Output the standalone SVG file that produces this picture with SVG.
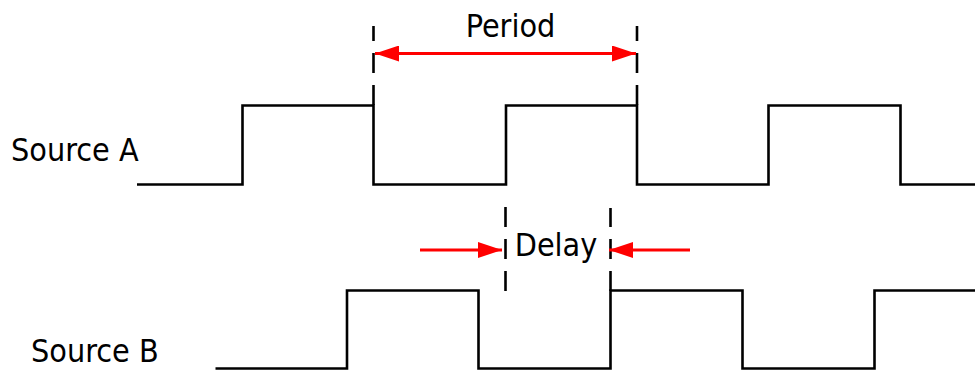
<svg xmlns="http://www.w3.org/2000/svg" width="975" height="371" viewBox="0 0 975 371">
<defs>
<style>
.sig{fill:none;stroke:#000;stroke-width:2.6;stroke-linejoin:miter;stroke-linecap:butt}
.dash{fill:none;stroke:#000;stroke-width:2.6;stroke-dasharray:20 12}
.arr{fill:none;stroke:#f00;stroke-width:3}
.lbl{font-family:'DejaVu Sans Condensed','DejaVu Sans',sans-serif;font-stretch:condensed;font-size:32px;fill:#000}
</style>
<marker id="ah" viewBox="0 0 24 16" refX="24" refY="8" markerWidth="24" markerHeight="16" markerUnits="userSpaceOnUse" orient="auto">
<path d="M0,0 L24,8 L0,16 Z" fill="#f00"/>
</marker>
</defs>
<rect width="975" height="371" fill="#fff"/>
<g id="source-a">
<text class="lbl" x="11" y="161">Source A</text>
<path class="sig" d="M137,184.5 H242.5 V105.5 H373.5 V184.5 H506 V105.5 H637 V184.5 H768.5 V105.5 H900.5 V184.5 H975"/>
</g>
<g id="source-b">
<text class="lbl" x="31" y="362">Source B</text>
<path class="sig" d="M215.5,368.5 H347 V290.5 H478.5 V368.5 H610.5 V290.5 H742.5 V368.5 H874.5 V290.5 H975"/>
</g>
<g id="period">
<text class="lbl" x="510.5" y="37" text-anchor="middle">Period</text>
</g>
<g id="delay">
<text class="lbl" x="556" y="256" text-anchor="middle">Delay</text>
</g>
<g id="connectors">
<path class="dash" d="M373.5,105 V26"/>
<path class="dash" d="M637,105 V26"/>
<path class="dash" d="M505.5,291 V202"/>
<path class="dash" d="M610.5,291 V208"/>
<path class="arr" d="M505,53.5 H375" marker-end="url(#ah)"/>
<path class="arr" d="M505,53.5 H636" marker-end="url(#ah)"/>
<path class="arr" d="M420,250 H502" marker-end="url(#ah)"/>
<path class="arr" d="M690,250 H609" marker-end="url(#ah)"/>
</g>
</svg>
